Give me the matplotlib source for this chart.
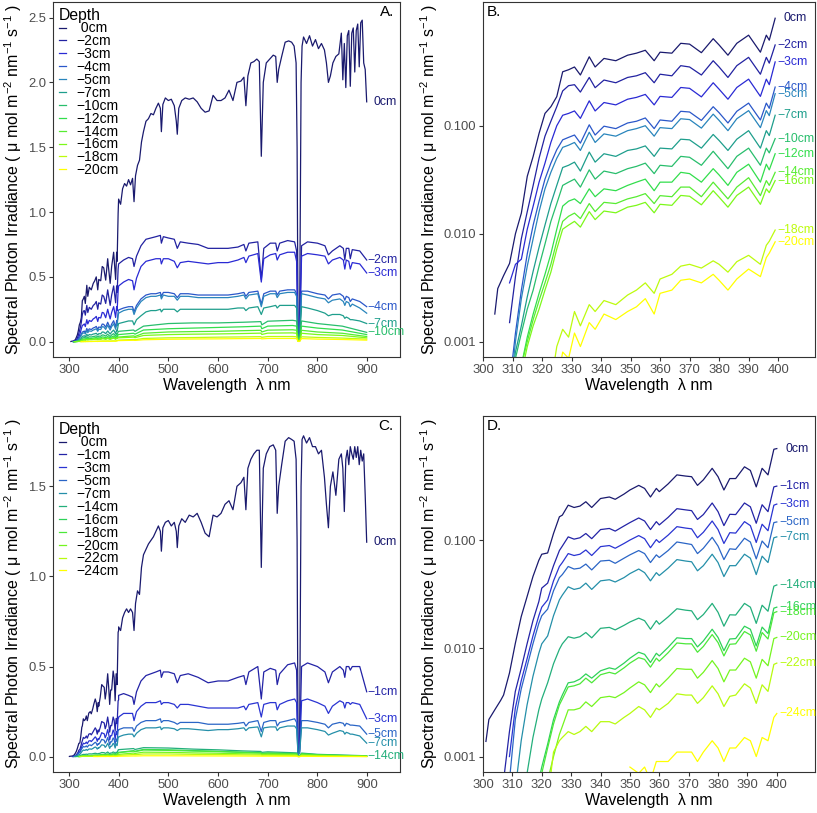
import numpy as np
import matplotlib
matplotlib.use('Agg')
import matplotlib.pyplot as plt
from matplotlib.colors import LinearSegmentedColormap
from matplotlib.ticker import NullLocator

plt.rcParams['font.family'] = ['Liberation Sans', 'DejaVu Sans']
plt.rcParams['mathtext.fontset'] = 'custom'
plt.rcParams['mathtext.rm'] = 'Liberation Sans'
plt.rcParams['mathtext.it'] = 'Liberation Sans:italic'

nan = np.nan

# depths (cm) of the two profiles
depths_a = [0, -2, -3, -4, -5, -7, -10, -12, -14, -16, -18, -20]
depths_c = [0, -1, -3, -5, -7, -14, -16, -18, -20, -22, -24]
# curves that get a label at the line end in the linear panels
ends_a = [0, -2, -3, -4, -7, -10]
ends_c = [0, -1, -3, -5, -7, -14]

# ---------------- UV part, profile 1 (panel B, and left part of A)
wl_uv_a = [304, 305, 307, 309, 311, 313, 315, 317, 319, 321, 323, 325, 327,
           329, 331, 333, 336, 338, 341, 345, 349, 352, 355, 358, 360, 364,
           367, 370, 374, 378, 380, 383, 386, 390, 394, 396, 397, 399]
uv_a_0 = [0.0018, 0.0031, 0.0041, 0.0053, 0.010, 0.0155, 0.034, 0.052, 0.085,
          0.13, 0.15, 0.186, 0.316, 0.33, 0.35, 0.295, 0.435, 0.35, 0.42,
          0.40, 0.45, 0.47, 0.50, 0.40, 0.48, 0.47, 0.58, 0.57, 0.475, 0.64,
          0.56, 0.45, 0.58, 0.69, 0.48, 0.69, 0.62, 0.99]
uv_a_2 = [nan] * 3 + [0.0015, 0.004, 0.009, 0.016, 0.028, 0.05, 0.08, 0.11,
                      0.15, 0.21, 0.235, 0.24, 0.205, 0.28, 0.225, 0.265, 0.25,
                      0.28, 0.29, 0.31, 0.25, 0.30, 0.29, 0.36, 0.35, 0.295,
                      0.40, 0.35, 0.28, 0.36, 0.43, 0.30, 0.43, 0.38, 0.56]
uv_a_3 = [nan] * 3 + [0.0035, 0.0052, 0.0058, 0.011, 0.018, 0.03, 0.045, 0.07,
                      0.10, 0.125, 0.13, 0.137, 0.117, 0.17, 0.137, 0.164,
                      0.156, 0.176, 0.183, 0.195, 0.156, 0.187, 0.183, 0.226,
                      0.222, 0.185, 0.25, 0.218, 0.176, 0.226, 0.27, 0.187,
                      0.27, 0.24, 0.39]
uv_a_4 = [nan] * 3 + [0.0004, 0.0012, 0.003, 0.0065, 0.012, 0.02, 0.032, 0.045,
                      0.06, 0.074, 0.078, 0.082, 0.069, 0.102, 0.082, 0.099,
                      0.094, 0.106, 0.11, 0.118, 0.094, 0.113, 0.11, 0.136,
                      0.134, 0.112, 0.15, 0.132, 0.106, 0.136, 0.162, 0.113,
                      0.162, 0.145, 0.228]
uv_a_5 = [nan] * 3 + [0.0003, 0.001, 0.0025, 0.005, 0.009, 0.016, 0.026, 0.037,
                      0.05, 0.063, 0.066, 0.07, 0.059, 0.087, 0.07, 0.084,
                      0.08, 0.09, 0.094, 0.10, 0.08, 0.096, 0.094, 0.116,
                      0.114, 0.095, 0.128, 0.112, 0.09, 0.116, 0.138, 0.096,
                      0.138, 0.124, 0.198]
uv_a_7 = [nan] * 3 + [0.0003, 0.0008, 0.0014, 0.0026, 0.0045, 0.0075, 0.012,
                      0.019, 0.028, 0.041, 0.043, 0.046, 0.038, 0.057, 0.046,
                      0.055, 0.052, 0.059, 0.061, 0.065, 0.052, 0.062, 0.061,
                      0.075, 0.074, 0.062, 0.083, 0.073, 0.059, 0.075, 0.09,
                      0.062, 0.09, 0.081, 0.125]
uv_a_10 = [nan] * 3 + [0.0003, 0.0007, 0.0012, 0.002, 0.003, 0.005, 0.008,
                       0.013, 0.019, 0.028, 0.03, 0.032, 0.027, 0.039, 0.032,
                       0.038, 0.036, 0.04, 0.042, 0.045, 0.036, 0.043, 0.042,
                       0.052, 0.051, 0.043, 0.058, 0.05, 0.04, 0.052, 0.062,
                       0.043, 0.062, 0.056, 0.076]
uv_a_12 = [nan] * 4 + [0.0003, 0.0006, 0.0011, 0.0018, 0.0028, 0.0042, 0.0065,
                       0.011, 0.018, 0.02, 0.021, 0.019, 0.026, 0.022, 0.026,
                       0.025, 0.028, 0.03, 0.032, 0.025, 0.030, 0.03, 0.037,
                       0.036, 0.03, 0.04, 0.035, 0.028, 0.037, 0.044, 0.03,
                       0.044, 0.039, 0.055]
uv_a_14 = [nan] * 4 + [0.0003, 0.0006, 0.001, 0.0016, 0.0024, 0.0035, 0.0052,
                       0.0085, 0.013, 0.0145, 0.0155, 0.0138, 0.019, 0.016,
                       0.0195, 0.019, 0.021, 0.022, 0.0235, 0.019, 0.0225,
                       0.022, 0.027, 0.027, 0.022, 0.030, 0.026, 0.021, 0.027,
                       0.033, 0.0225, 0.031, 0.028, 0.037]
uv_a_16 = [nan] * 4 + [0.0003, 0.0005, 0.0009, 0.0014, 0.002, 0.003, 0.0044,
                       0.0072, 0.011, 0.012, 0.013, 0.0115, 0.016, 0.0135,
                       0.0162, 0.0156, 0.0176, 0.0183, 0.0195, 0.0156, 0.0187,
                       0.0183, 0.0226, 0.0222, 0.0185, 0.025, 0.0218, 0.0176,
                       0.0226, 0.027, 0.0187, 0.026, 0.024, 0.031]
uv_a_18 = [nan] * 10 + [0.0004, 0.0009, 0.0013, 0.0011, 0.0019, 0.0014,
                        0.0022, 0.0019, 0.0024, 0.0022, 0.0027, 0.003, 0.0035,
                        0.0028, 0.0038, 0.0042, 0.005, 0.0052, 0.0048, 0.0056,
                        0.0052, 0.0044, 0.0055, 0.0063, 0.0052, 0.0078,
                        0.0085, 0.0108]
uv_a_20 = [nan] * 11 + [0.0004, 0.0008, 0.0007, 0.0012, 0.0009, 0.0015,
                        0.0013, 0.0018, 0.0016, 0.0019, 0.0021, 0.0025, 0.0018,
                        0.0028, 0.003, 0.0037, 0.0038, 0.0035, 0.0042, 0.0037,
                        0.003, 0.0038, 0.0047, 0.004, 0.006, 0.0066, 0.0084]

# ---------------- UV part, profile 2 (panel D, and left part of C)
wl_uv_c = [301, 302, 304, 306, 307, 309, 311, 313, 315, 317, 319, 320, 322,
           324, 326, 327, 329, 331, 333, 335, 337, 340, 343, 345, 348, 350,
           353, 355, 357, 359, 360, 363, 366, 369, 371, 373, 375, 378, 380,
           382, 384, 386, 389, 391, 393, 395, 397, 399, 400]
uv_c_0 = [0.00138, 0.0022, 0.0027, 0.0033, 0.0037, 0.0059, 0.0111, 0.0196,
          0.030, 0.046, 0.065, 0.074, 0.076, 0.115, 0.164, 0.17, 0.21, 0.20,
          0.206, 0.226, 0.20, 0.242, 0.25, 0.238, 0.266, 0.29, 0.32, 0.30,
          0.25, 0.30, 0.28, 0.33, 0.40, 0.39, 0.385, 0.32, 0.36, 0.46, 0.385,
          0.29, 0.37, 0.37, 0.475, 0.44, 0.31, 0.46, 0.40, 0.69, 0.70]
uv_c_1 = [nan] * 4 + [0.0006, 0.0017, 0.004, 0.0065, 0.011, 0.018, 0.027,
                      0.036, 0.04, 0.058, 0.08, 0.088, 0.107, 0.102, 0.105,
                      0.115, 0.103, 0.125, 0.128, 0.121, 0.135, 0.145, 0.16,
                      0.15, 0.125, 0.148, 0.138, 0.162, 0.195, 0.19, 0.187,
                      0.155, 0.172, 0.22, 0.183, 0.136, 0.173, 0.172, 0.22,
                      0.203, 0.143, 0.212, 0.183, 0.31, 0.315]
uv_c_3 = [nan] * 5 + [0.001, 0.0028, 0.005, 0.008, 0.013, 0.02, 0.024, 0.028,
                      0.042, 0.057, 0.062, 0.075, 0.072, 0.074, 0.081, 0.072,
                      0.087, 0.089, 0.084, 0.093, 0.1, 0.11, 0.103, 0.085,
                      0.101, 0.095, 0.111, 0.133, 0.129, 0.127, 0.105, 0.118,
                      0.15, 0.125, 0.093, 0.117, 0.116, 0.148, 0.136, 0.095,
                      0.14, 0.122, 0.21, 0.215]
uv_c_5 = [nan] * 5 + [0.0006, 0.0022, 0.0042, 0.0068, 0.011, 0.017, 0.02,
                      0.023, 0.034, 0.045, 0.048, 0.057, 0.054, 0.055, 0.06,
                      0.053, 0.064, 0.065, 0.061, 0.068, 0.073, 0.08, 0.075,
                      0.062, 0.073, 0.069, 0.08, 0.096, 0.093, 0.091, 0.075,
                      0.084, 0.106, 0.088, 0.066, 0.083, 0.082, 0.104, 0.096,
                      0.067, 0.098, 0.085, 0.145, 0.147]
uv_c_7 = [nan] * 6 + [0.0005, 0.0014, 0.003, 0.0055, 0.009, 0.011, 0.013,
                      0.02, 0.028, 0.031, 0.037, 0.035, 0.036, 0.04, 0.035,
                      0.042, 0.043, 0.041, 0.045, 0.049, 0.054, 0.05, 0.042,
                      0.05, 0.047, 0.055, 0.066, 0.064, 0.063, 0.052, 0.058,
                      0.074, 0.062, 0.046, 0.058, 0.058, 0.074, 0.068, 0.048,
                      0.071, 0.062, 0.105, 0.107]
uv_c_14 = [nan] * 7 + [0.0003, 0.0007, 0.0015, 0.0027, 0.0034, 0.0048, 0.0072,
                       0.0098, 0.011, 0.0128, 0.0124, 0.0128, 0.014, 0.0125,
                       0.0153, 0.0156, 0.0148, 0.0163, 0.0175, 0.019, 0.018,
                       0.015, 0.018, 0.0167, 0.0195, 0.0232, 0.0225, 0.0222,
                       0.0184, 0.0205, 0.026, 0.0215, 0.016, 0.0204, 0.0203,
                       0.026, 0.024, 0.017, 0.025, 0.022, 0.0375, 0.0385]
uv_c_16 = [nan] * 10 + [0.0006, 0.0008, 0.0013, 0.0022, 0.0032, 0.0037,
                        0.0048, 0.0049, 0.0052, 0.0058, 0.0053, 0.0062,
                        0.0066, 0.0064, 0.0073, 0.0081, 0.0092, 0.0088,
                        0.0074, 0.009, 0.0085, 0.0102, 0.0125, 0.0123, 0.0123,
                        0.0103, 0.0117, 0.015, 0.0126, 0.0095, 0.0122, 0.0123,
                        0.016, 0.015, 0.0105, 0.0157, 0.0137, 0.0235, 0.024]
uv_c_18 = [nan] * 10 + [0.0005, 0.0007, 0.0012, 0.002, 0.003, 0.0034,
                        0.0044, 0.0045, 0.0047, 0.0053, 0.0048, 0.0057, 0.006,
                        0.0058, 0.0066, 0.0073, 0.0082, 0.0079, 0.0067,
                        0.0081, 0.0076, 0.0091, 0.0112, 0.011, 0.011, 0.0092,
                        0.0104, 0.0134, 0.0113, 0.0085, 0.0109, 0.011, 0.0143,
                        0.0133, 0.0094, 0.014, 0.0122, 0.0213, 0.0218]
uv_c_20 = [nan] * 12 + [0.0006, 0.001, 0.0016, 0.0019, 0.0027, 0.0027,
                        0.0028, 0.0032, 0.0029, 0.0035, 0.0036, 0.0035,
                        0.0039, 0.0043, 0.0049, 0.0046, 0.0039, 0.0047,
                        0.0044, 0.0053, 0.0065, 0.0064, 0.0064, 0.0053, 0.006,
                        0.0077, 0.0065, 0.0049, 0.0063, 0.0063, 0.0081,
                        0.0075, 0.0053, 0.0079, 0.0069, 0.0123, 0.0126]
uv_c_22 = [nan] * 12 + [0.0004, 0.0011, 0.0014, 0.0015, 0.0017, 0.0016,
                        0.0017, 0.0019, 0.0017, 0.0021, 0.0021, 0.002, 0.0023,
                        0.0025, 0.0029, 0.0027, 0.0023, 0.0028, 0.0027,
                        0.0031, 0.0038, 0.0037, 0.0037, 0.0031, 0.0035,
                        0.0045, 0.0038, 0.0029, 0.0036, 0.0037, 0.0047,
                        0.0043, 0.0031, 0.0046, 0.004, 0.0071, 0.0073]
uv_c_24 = [nan] * 25 + [0.0008, 0.0007, 0.0008, 0.0006, 0.0009, 0.0009,
                        0.0009, 0.0011, 0.0011, 0.0011, 0.0009, 0.0011,
                        0.0014, 0.0012, 0.0009, 0.0012, 0.0012, 0.0015,
                        0.0014, 0.001, 0.0015, 0.0014, 0.0023, 0.0025]

# ---------------- visible part (panels A and C), surface spectra
wl_vis = [400, 404, 408, 412, 416, 420, 424, 428, 431, 434, 438, 442, 446,
          450, 455, 460, 465, 470, 475, 480, 484, 486, 489, 494, 500, 506,
          512, 516, 518, 521, 527, 534, 542, 550, 558, 566, 574, 582, 590,
          598, 606, 614, 622, 630, 638, 646, 652, 656, 660, 666, 672, 678,
          683, 687, 691, 697, 704, 711, 716, 719, 722, 728, 735, 742, 748,
          753, 757, 759, 761, 764, 767, 769, 772, 778, 784, 790, 796, 802,
          808, 814, 818, 822, 826, 831, 837, 843, 848, 851, 854, 857, 860,
          863, 866, 869, 872, 875, 878, 881, 884, 887, 890, 893, 896, 899]
vis_a_0 = [1.10, 1.06, 1.18, 1.22, 1.20, 1.25, 1.21, 1.26, 1.08, 1.28, 1.36,
           1.40, 1.54, 1.62, 1.70, 1.72, 1.76, 1.75, 1.80, 1.84, 1.80, 1.62,
           1.83, 1.88, 1.86, 1.87, 1.82, 1.70, 1.60, 1.80, 1.86, 1.88, 1.87,
           1.88, 1.85, 1.80, 1.77, 1.78, 1.90, 1.86, 1.86, 1.88, 1.94, 1.86,
           2.00, 2.01, 2.04, 1.82, 2.05, 2.15, 2.16, 2.18, 2.16, 1.43, 2.00,
           2.15, 2.18, 2.21, 2.20, 2.00, 2.10, 2.20, 2.31, 2.32, 2.31, 2.28,
           2.15, 1.50, 0.02, 0.08, 2.00, 2.28, 2.35, 2.30, 2.36, 2.28, 2.33,
           2.26, 2.30, 2.25, 2.15, 2.00, 2.05, 2.15, 2.20, 2.22, 2.38, 2.02,
           2.30, 1.96, 2.36, 2.40, 1.97, 2.38, 2.42, 2.08, 2.40, 2.45, 2.12,
           2.46, 2.48, 2.15, 2.10, 1.85]
vis_c_0 = [0.72, 0.70, 0.77, 0.80, 0.82, 0.80, 0.82, 0.80, 0.70, 0.85, 0.92,
           0.90, 1.05, 1.12, 1.15, 1.18, 1.20, 1.22, 1.25, 1.28, 1.25, 1.14,
           1.27, 1.30, 1.31, 1.28, 1.30, 1.25, 1.16, 1.28, 1.32, 1.30, 1.34,
           1.33, 1.35, 1.30, 1.24, 1.22, 1.34, 1.33, 1.35, 1.40, 1.42, 1.37,
           1.50, 1.52, 1.55, 1.37, 1.60, 1.65, 1.68, 1.70, 1.70, 1.05, 1.60,
           1.68, 1.72, 1.73, 1.70, 1.35, 1.50, 1.62, 1.75, 1.77, 1.76, 1.75,
           1.65, 1.20, 0.02, 0.06, 1.50, 1.76, 1.78, 1.74, 1.77, 1.72, 1.72,
           1.68, 1.70, 1.55, 1.40, 1.27, 1.50, 1.58, 1.45, 1.65, 1.68, 1.60,
           1.36, 1.65, 1.70, 1.62, 1.72, 1.68, 1.65, 1.72, 1.66, 1.72, 1.62,
           1.70, 1.64, 1.68, 1.45, 1.19]

# visible part, shallow layers
wl_mid = [400, 410, 420, 428, 431, 436, 445, 455, 465, 475, 484, 486, 490,
          500, 512, 518, 524, 540, 560, 580, 600, 620, 640, 652, 656, 662,
          680, 687, 692, 705, 716, 719, 724, 740, 754, 758, 761, 764, 768,
          780, 800, 815, 822, 830, 845, 852, 855, 858, 863, 866, 870, 885, 899]
vis_a_2 = [0.60, 0.63, 0.65, 0.64, 0.58, 0.66, 0.74, 0.79, 0.80, 0.81,
           0.82, 0.76, 0.81, 0.80, 0.79, 0.72, 0.77, 0.76, 0.75, 0.72,
           0.72, 0.72, 0.73, 0.75, 0.70, 0.76, 0.77, 0.48, 0.72, 0.76,
           0.76, 0.70, 0.76, 0.78, 0.77, 0.70, 0.02, 0.05, 0.74, 0.77,
           0.76, 0.74, 0.67, 0.70, 0.74, 0.72, 0.63, 0.72, 0.72, 0.64,
           0.71, 0.70, 0.63]
vis_a_3 = [0.43, 0.46, 0.48, 0.47, 0.40, 0.49, 0.58, 0.62, 0.63, 0.64,
           0.64, 0.60, 0.64, 0.64, 0.62, 0.57, 0.61, 0.62, 0.61, 0.60,
           0.61, 0.61, 0.63, 0.65, 0.61, 0.66, 0.68, 0.46, 0.64, 0.67,
           0.68, 0.63, 0.67, 0.69, 0.69, 0.62, 0.02, 0.05, 0.66, 0.68,
           0.67, 0.66, 0.60, 0.63, 0.65, 0.63, 0.56, 0.63, 0.62, 0.56,
           0.61, 0.60, 0.53]
vis_a_4 = [0.245, 0.26, 0.27, 0.27, 0.23, 0.28, 0.33, 0.36, 0.37, 0.37,
           0.38, 0.35, 0.38, 0.38, 0.37, 0.34, 0.37, 0.37, 0.36, 0.36,
           0.36, 0.36, 0.37, 0.38, 0.35, 0.38, 0.39, 0.29, 0.37, 0.39,
           0.39, 0.36, 0.39, 0.40, 0.40, 0.37, 0.01, 0.03, 0.39, 0.39,
           0.37, 0.36, 0.33, 0.36, 0.37, 0.35, 0.32, 0.35, 0.34, 0.31,
           0.33, 0.31, 0.27]
vis_a_5 = [0.22, 0.24, 0.25, 0.25, 0.21, 0.26, 0.31, 0.34, 0.35, 0.35,
           0.36, 0.33, 0.36, 0.35, 0.35, 0.32, 0.35, 0.35, 0.34, 0.34,
           0.34, 0.34, 0.35, 0.36, 0.33, 0.36, 0.37, 0.27, 0.35, 0.37,
           0.37, 0.34, 0.37, 0.38, 0.38, 0.35, 0.01, 0.03, 0.37, 0.36,
           0.34, 0.33, 0.30, 0.32, 0.33, 0.31, 0.28, 0.31, 0.30, 0.27,
           0.29, 0.26, 0.22]
vis_a_7 = [0.14, 0.15, 0.16, 0.16, 0.13, 0.17, 0.20, 0.23, 0.24, 0.24,
           0.25, 0.23, 0.25, 0.25, 0.25, 0.23, 0.25, 0.25, 0.25, 0.25,
           0.25, 0.25, 0.26, 0.26, 0.24, 0.26, 0.27, 0.21, 0.26, 0.27,
           0.28, 0.26, 0.28, 0.28, 0.28, 0.26, 0.01, 0.02, 0.27, 0.26,
           0.24, 0.22, 0.20, 0.21, 0.21, 0.20, 0.18, 0.19, 0.18, 0.17,
           0.17, 0.16, 0.14]
vis_c_1 = [0.34, 0.35, 0.34, 0.33, 0.29, 0.36, 0.42, 0.45, 0.46, 0.47,
           0.48, 0.44, 0.47, 0.47, 0.46, 0.41, 0.45, 0.46, 0.44, 0.41,
           0.42, 0.42, 0.44, 0.45, 0.40, 0.47, 0.50, 0.32, 0.47, 0.49,
           0.48, 0.40, 0.46, 0.51, 0.52, 0.48, 0.02, 0.04, 0.50, 0.52,
           0.50, 0.47, 0.41, 0.47, 0.50, 0.48, 0.44, 0.50, 0.50, 0.48,
           0.50, 0.50, 0.36]
vis_c_3 = [0.22, 0.24, 0.24, 0.24, 0.20, 0.25, 0.28, 0.30, 0.30, 0.30,
           0.31, 0.29, 0.30, 0.30, 0.29, 0.27, 0.29, 0.29, 0.28, 0.27,
           0.27, 0.27, 0.27, 0.28, 0.26, 0.29, 0.30, 0.22, 0.29, 0.30,
           0.30, 0.26, 0.29, 0.31, 0.32, 0.30, 0.02, 0.03, 0.31, 0.32,
           0.30, 0.28, 0.24, 0.28, 0.31, 0.30, 0.27, 0.30, 0.30, 0.29,
           0.30, 0.29, 0.21]
vis_c_5 = [0.15, 0.16, 0.16, 0.16, 0.14, 0.17, 0.19, 0.20, 0.20, 0.20,
           0.21, 0.19, 0.20, 0.20, 0.19, 0.18, 0.19, 0.19, 0.19, 0.18,
           0.18, 0.18, 0.185, 0.19, 0.17, 0.19, 0.20, 0.14, 0.19, 0.20,
           0.20, 0.17, 0.19, 0.20, 0.21, 0.19, 0.01, 0.02, 0.20, 0.20,
           0.19, 0.18, 0.16, 0.18, 0.19, 0.185, 0.17, 0.185, 0.18, 0.175,
           0.175, 0.17, 0.125]
vis_c_7 = [0.11, 0.12, 0.125, 0.125, 0.11, 0.13, 0.15, 0.16, 0.16, 0.16,
           0.165, 0.15, 0.16, 0.16, 0.155, 0.145, 0.155, 0.155, 0.15, 0.145,
           0.15, 0.15, 0.155, 0.16, 0.145, 0.16, 0.165, 0.11, 0.16, 0.165,
           0.165, 0.145, 0.16, 0.17, 0.17, 0.155, 0.01, 0.02, 0.16, 0.16,
           0.15, 0.14, 0.12, 0.13, 0.145, 0.14, 0.125, 0.135, 0.13, 0.125,
           0.125, 0.115, 0.075]

# visible part, deep layers
wl_low = [400, 430, 433, 450, 500, 550, 600, 650, 686, 688, 700, 750, 758,
          761, 764, 768, 800, 850, 899]
vis_a_10 = [0.08, 0.09, 0.08, 0.12, 0.14, 0.145, 0.145, 0.15, 0.155, 0.13,
            0.158, 0.165, 0.16, 0.01, 0.01, 0.16, 0.14, 0.12, 0.072]
vis_a_12 = [0.055, 0.065, 0.058, 0.09, 0.10, 0.105, 0.11, 0.115, 0.12, 0.10,
            0.12, 0.125, 0.12, 0.008, 0.008, 0.12, 0.105, 0.09, 0.055]
vis_a_14 = [0.036, 0.045, 0.04, 0.065, 0.075, 0.078, 0.08, 0.085, 0.088,
            0.075, 0.089, 0.092, 0.088, 0.006, 0.006, 0.088, 0.075, 0.065, 0.04]
vis_a_16 = [0.03, 0.035, 0.031, 0.048, 0.055, 0.058, 0.06, 0.063, 0.066,
            0.056, 0.066, 0.068, 0.065, 0.005, 0.005, 0.065, 0.055, 0.048, 0.03]
vis_a_18 = [0.012, 0.017, 0.015, 0.025, 0.03, 0.032, 0.035, 0.037, 0.039,
            0.034, 0.04, 0.04, 0.038, 0.003, 0.003, 0.038, 0.033, 0.028, 0.02]
vis_a_20 = [0.0085, 0.011, 0.01, 0.015, 0.019, 0.021, 0.022, 0.024, 0.025,
            0.022, 0.025, 0.025, 0.024, 0.002, 0.002, 0.024, 0.02, 0.017, 0.012]
vis_c_14 = [0.039, 0.045, 0.04, 0.05, 0.048, 0.042, 0.038, 0.032, 0.029,
            0.024, 0.027, 0.022, 0.021, 0.003, 0.003, 0.02, 0.013, 0.009, 0.005]
vis_c_16 = [0.024, 0.033, 0.03, 0.04, 0.038, 0.034, 0.03, 0.025, 0.022,
            0.018, 0.021, 0.018, 0.017, 0.002, 0.002, 0.016, 0.011, 0.007, 0.004]
vis_c_18 = [0.022, 0.031, 0.028, 0.037, 0.035, 0.031, 0.028, 0.023, 0.02,
            0.017, 0.019, 0.016, 0.015, 0.002, 0.002, 0.015, 0.01, 0.006, 0.003]
vis_c_20 = [0.0126, 0.02, 0.018, 0.025, 0.024, 0.021, 0.019, 0.016, 0.014,
            0.012, 0.013, 0.011, 0.01, 0.001, 0.001, 0.01, 0.007, 0.004, 0.002]
vis_c_22 = [0.0073, 0.012, 0.011, 0.015, 0.015, 0.013, 0.012, 0.01, 0.009,
            0.008, 0.008, 0.007, 0.0065, 0.001, 0.001, 0.0065, 0.004, 0.0025,
            0.0013]
vis_c_24 = [0.0025, 0.004, 0.0037, 0.005, 0.005, 0.0045, 0.004, 0.0035,
            0.003, 0.0027, 0.0028, 0.0025, 0.0024, 0.0005, 0.0005, 0.0023,
            0.0015, 0.001, 0.0005]

uv_a = {0: uv_a_0, -2: uv_a_2, -3: uv_a_3, -4: uv_a_4, -5: uv_a_5,
        -7: uv_a_7, -10: uv_a_10, -12: uv_a_12, -14: uv_a_14, -16: uv_a_16,
        -18: uv_a_18, -20: uv_a_20}
uv_c = {0: uv_c_0, -1: uv_c_1, -3: uv_c_3, -5: uv_c_5, -7: uv_c_7,
        -14: uv_c_14, -16: uv_c_16, -18: uv_c_18, -20: uv_c_20,
        -22: uv_c_22, -24: uv_c_24}
vis_a = {0: (wl_vis, vis_a_0), -2: (wl_mid, vis_a_2), -3: (wl_mid, vis_a_3),
         -4: (wl_mid, vis_a_4), -5: (wl_mid, vis_a_5), -7: (wl_mid, vis_a_7),
         -10: (wl_low, vis_a_10), -12: (wl_low, vis_a_12),
         -14: (wl_low, vis_a_14), -16: (wl_low, vis_a_16),
         -18: (wl_low, vis_a_18), -20: (wl_low, vis_a_20)}
vis_c = {0: (wl_vis, vis_c_0), -1: (wl_mid, vis_c_1), -3: (wl_mid, vis_c_3),
         -5: (wl_mid, vis_c_5), -7: (wl_mid, vis_c_7),
         -14: (wl_low, vis_c_14), -16: (wl_low, vis_c_16),
         -18: (wl_low, vis_c_18), -20: (wl_low, vis_c_20),
         -22: (wl_low, vis_c_22), -24: (wl_low, vis_c_24)}

# navy -> blue -> teal -> green -> yellow, by rank of the depth
cmap = LinearSegmentedColormap.from_list(
    'depth', [(0.0, '#1a1a6e'), (0.18, '#2a2ad4'), (0.36, '#2a84bf'),
              (0.45, '#1d9c8e'), (0.64, '#33e04a'), (0.82, '#7cf81a'),
              (1.0, '#ffff00')])

ylab = 'Spectral Photon Irradiance ( \u03bc mol m$^{-2}$ nm$^{-1}$ s$^{-1}$ )'
xlab = 'Wavelength  \u03bb nm'


def name(d):
    return '0cm' if d == 0 else '\u2212%dcm' % -d


def style(ax):
    for s in ax.spines.values():
        s.set_color('#333333')
        s.set_linewidth(0.8)
    ax.tick_params(direction='out', length=2.8, width=0.8, color='#333333',
                   labelcolor='#4d4d4d', labelsize=9.4, pad=2)
    ax.set_xlabel(xlab, fontsize=11.5, labelpad=2)
    ax.set_ylabel(ylab, fontsize=11.5, labelpad=3)


def label_end(ax, x, y, d, col, dx):
    ax.annotate(name(d), xy=(x, y), xytext=(dx + (4.5 if d == 0 else 0), 0),
                textcoords='offset points', ha='left', va='center',
                color=col, fontsize=8.8, annotation_clip=False)


def linear_panel(ax, depths, uv_wl, uv, vis, ends, ylim, yticks, tag):
    cols = cmap(np.linspace(0, 1, len(depths)))
    for d, col in zip(depths, cols):
        x = np.r_[uv_wl, vis[d][0]]
        y = np.r_[uv[d], vis[d][1]]
        ax.plot(x, y, color=col, lw=0.9, label=(' 0cm' if d == 0 else name(d)))
        if d in ends:
            label_end(ax, x[-1], y[-1], d, col, 0.5)
    ax.set_xlim(268, 966)
    ax.set_ylim(*ylim)
    ax.set_xticks([300, 400, 500, 600, 700, 800, 900])
    ax.set_yticks(yticks)
    ax.set_yticklabels(['%.1f' % v for v in yticks])
    ax.legend(title='Depth', loc='upper left', frameon=False,
              fontsize=10, title_fontsize=11.3, handlelength=0.5,
              handletextpad=0.8, labelspacing=-0.08, borderaxespad=0.15,
              borderpad=0.25, alignment='left')
    ax.text(0.982, 0.992, tag, transform=ax.transAxes, ha='right', va='top',
            fontsize=11)
    style(ax)


def log_panel(ax, depths, uv_wl, uv, xmax, tag):
    cols = cmap(np.linspace(0, 1, len(depths)))
    for d, col in zip(depths, cols):
        ax.plot(uv_wl, uv[d], color=col, lw=0.9)
        label_end(ax, uv_wl[-1], uv[d][-1], d, col, 1.5)
    ax.set_yscale('log')
    ax.set_xlim(300, xmax)
    ax.set_ylim(0.00072, 1.40)
    ax.set_xticks(list(range(300, 401, 10)))
    ax.set_yticks([0.001, 0.01, 0.1])
    ax.set_yticklabels(['0.001', '0.010', '0.100'])
    ax.yaxis.set_minor_locator(NullLocator())
    ax.text(0.012, 0.992, tag, transform=ax.transAxes, ha='left', va='top',
            fontsize=11)
    style(ax)


fig = plt.figure(figsize=(8.17, 8.13), dpi=100)
W, H = 817.0, 813.0
axA = fig.add_axes([53 / W, 1 - 357 / H, 347 / W, 355 / H])
axB = fig.add_axes([483 / W, 1 - 357 / H, 332 / W, 355 / H])
axC = fig.add_axes([53 / W, 1 - 772 / H, 347 / W, 356 / H])
axD = fig.add_axes([483 / W, 1 - 772 / H, 332 / W, 356 / H])

linear_panel(axA, depths_a, wl_uv_a, uv_a, vis_a, ends_a, (-0.118, 2.62),
             [0.0, 0.5, 1.0, 1.5, 2.0, 2.5], 'A.')
log_panel(axB, depths_a, wl_uv_a, uv_a, 412.5, 'B.')
linear_panel(axC, depths_c, wl_uv_c, uv_c, vis_c, ends_c, (-0.085, 1.89),
             [0.0, 0.5, 1.0, 1.5], 'C.')
log_panel(axD, depths_c, wl_uv_c, uv_c, 413, 'D.')

fig.savefig('out.png', dpi=100)
